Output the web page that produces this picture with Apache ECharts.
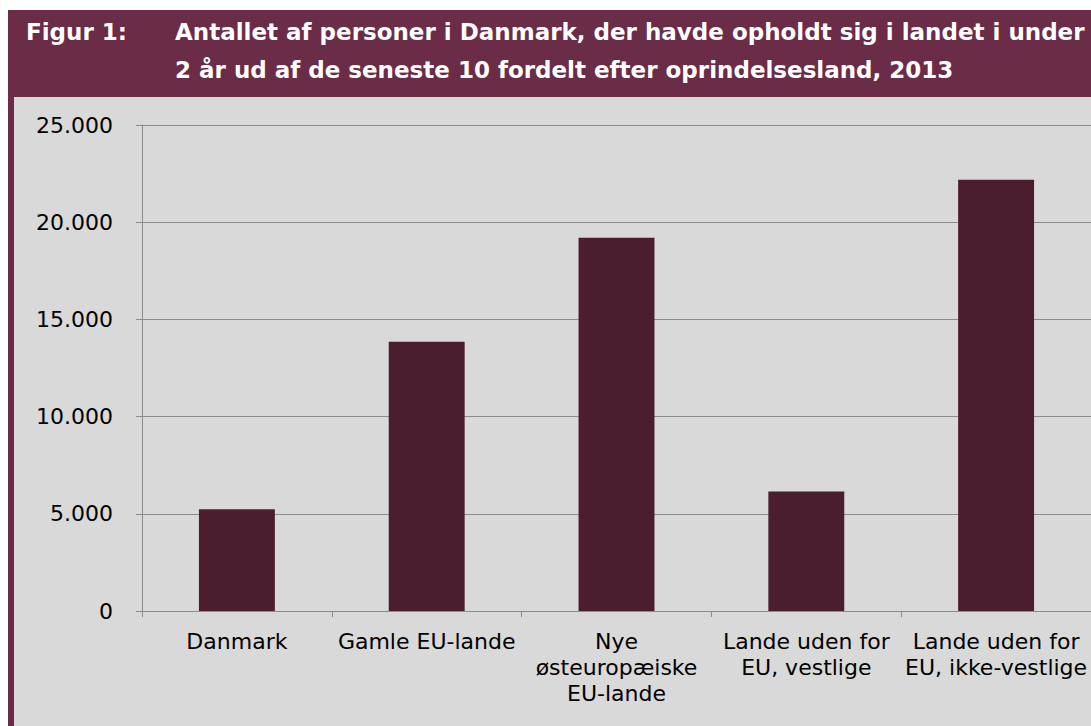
<!DOCTYPE html>
<html>
<head>
<meta charset="utf-8">
<script src="https://cdn.jsdelivr.net/npm/echarts@6/dist/echarts.min.js"></script>
<style>
html,body{margin:0;padding:0;background:#ffffff;}
#chart{width:1091px;height:726px;}
</style>
</head>
<body>
<div id="chart"></div>
<script>
const figLabel = 'Figur 1:';
const titleLines = ['Antallet af personer i Danmark, der havde opholdt sig i landet i under', '2 år ud af de seneste 10 fordelt efter oprindelsesland, 2013'];
const categories = ['Danmark', 'Gamle EU-lande', 'Nye\nøsteuropæiske\nEU-lande', 'Lande uden for\nEU, vestlige', 'Lande uden for\nEU, ikke-vestlige'];
const values = [5230, 13850, 19200, 6150, 22180];

const chart = echarts.init(document.getElementById('chart'), null, {renderer: 'svg'});
const font = '"DejaVu Sans", Verdana, sans-serif';
chart.setOption({
  backgroundColor: '#ffffff',
  animation: false,
  graphic: [
    {type: 'rect', left: 8, top: 10, shape: {width: 1083, height: 87}, style: {fill: '#6b2c47'}, z: -10},
    {type: 'rect', left: 8, top: 97, shape: {width: 6, height: 629}, style: {fill: '#6b2c47'}, z: -10},
    {type: 'rect', left: 14, top: 97, shape: {width: 1077, height: 629}, style: {fill: '#d9d9d9'}, z: -10}
  ],
  title: [
    {text: figLabel, left: 26, top: 13, padding: 0,
     textStyle: {color: '#ffffff', fontFamily: font, fontWeight: 'bold', fontSize: 23, lineHeight: 38}},
    {text: titleLines.join('\n'), left: 175, top: 13, padding: 0,
     textStyle: {color: '#ffffff', fontFamily: font, fontWeight: 'bold', fontSize: 23, lineHeight: 38}}
  ],
  grid: {left: 142, top: 125, width: 955, height: 486, containLabel: false},
  xAxis: {
    type: 'category',
    data: categories,
    axisLine: {lineStyle: {color: '#8c8c8c', width: 1}},
    axisTick: {show: true, length: 6, lineStyle: {color: '#8c8c8c'}},
    axisLabel: {color: '#000000', fontFamily: font, fontSize: 22, lineHeight: 26, margin: 17, interval: 0, align: 'center'}
  },
  yAxis: {
    type: 'value',
    min: 0, max: 25000, interval: 5000,
    axisLine: {show: true, lineStyle: {color: '#8c8c8c', width: 1}},
    axisTick: {show: true, length: 6, lineStyle: {color: '#8c8c8c'}},
    splitLine: {show: true, lineStyle: {color: '#8c8c8c', width: 1}},
    axisLabel: {color: '#000000', fontFamily: font, fontSize: 22, margin: 29,
      formatter: v => v === 0 ? '0' : v.toLocaleString('de-DE')}
  },
  series: [{
    type: 'bar',
    data: values,
    barWidth: '40%',
    itemStyle: {color: '#4a1e2e'}
  }]
});
</script>
</body>
</html>
